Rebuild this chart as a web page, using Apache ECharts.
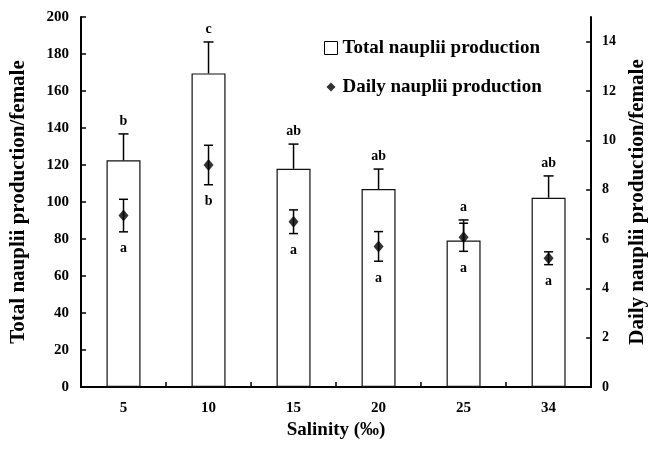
<!DOCTYPE html>
<html>
<head>
<meta charset="utf-8">
<script src="https://cdn.jsdelivr.net/npm/echarts@6/dist/echarts.min.js"></script>
<style>
html,body{margin:0;padding:0;background:#fff;}
#main{width:656px;height:450px;}
</style>
</head>
<body>
<div id="main"></div>
<script>
const categories = ['5', '10', '15', '20', '25', '34'];
const totalValues = [122.5, 169.5, 118, 107, 79.2, 102.3];
const totalErrors = [14.3, 17, 13.3, 10.8, 11.1, 11.8];
const dailyValues = [6.95, 9.0, 6.7, 5.7, 6.07, 5.22];
const dailyErrors = [0.66, 0.8, 0.48, 0.6, 0.57, 0.26];
const totalLetters = ['b', 'c', 'ab', 'ab', 'a', 'ab'];
const dailyLetters = ['a', 'b', 'a', 'a', 'a', 'a'];
const leftTicks = [0, 200, 20];
const rightTicks = [0, 15, 2];

const FONT = "'Liberation Serif', 'Times New Roman', serif";

const chart = echarts.init(document.getElementById('main'));

const totalErrData = totalValues.map((v, i) => [i, v, totalErrors[i], totalLetters[i]]);
const dailyErrData = dailyValues.map((v, i) => [i, v, dailyErrors[i], dailyLetters[i]]);

function renderTotalErr(params, api) {
  const i = api.value(0), v = api.value(1), e = api.value(2);
  const base = api.coord([i, v]);
  const top = api.coord([i, v + e]);
  const cap = 5;
  const letter = totalLetters[params.dataIndex];
  return {
    type: 'group',
    children: [
      {type: 'line', shape: {x1: top[0], y1: base[1], x2: top[0], y2: top[1]}, style: {stroke: '#000', lineWidth: 1.5}},
      {type: 'line', shape: {x1: top[0] - cap, y1: top[1], x2: top[0] + cap, y2: top[1]}, style: {stroke: '#000', lineWidth: 1.5}},
      {type: 'text', x: top[0], y: top[1] - 13, style: {text: letter, fill: '#000', font: 'bold 14px ' + FONT, align: 'center', verticalAlign: 'middle'}}
    ]
  };
}

function renderDailyErr(params, api) {
  const i = api.value(0), v = api.value(1), e = api.value(2);
  const hi = api.coord([i, v + e]);
  const lo = api.coord([i, v - e]);
  const cap = 4.5;
  const letter = dailyLetters[params.dataIndex];
  return {
    type: 'group',
    children: [
      {type: 'line', shape: {x1: hi[0], y1: hi[1], x2: lo[0], y2: lo[1]}, style: {stroke: '#000', lineWidth: 1.5}},
      {type: 'line', shape: {x1: hi[0] - cap, y1: hi[1], x2: hi[0] + cap, y2: hi[1]}, style: {stroke: '#000', lineWidth: 1.5}},
      {type: 'line', shape: {x1: lo[0] - cap, y1: lo[1], x2: lo[0] + cap, y2: lo[1]}, style: {stroke: '#000', lineWidth: 1.5}},
      {type: 'text', x: lo[0], y: lo[1] + 17, style: {text: letter, fill: '#000', font: 'bold 14px ' + FONT, align: 'center', verticalAlign: 'middle'}}
    ]
  };
}

const option = {
  animation: false,
  backgroundColor: '#fff',
  textStyle: {fontFamily: FONT},
  grid: {left: 81, right: 61, top: 17, bottom: 63, containLabel: false},
  legend: {
    orient: 'vertical',
    left: 319,
    top: 33,
    itemGap: 19,
    itemWidth: 13,
    itemHeight: 13,
    textStyle: {fontFamily: FONT, fontWeight: 'bold', fontSize: 19, color: '#000', lineHeight: 20},
    data: [
      {name: 'Total nauplii production', icon: 'rect', itemStyle: {color: '#fff', borderColor: '#000', borderWidth: 1}},
      {name: 'Daily nauplii production', icon: 'path://M0,0L0.01,0M20,20L20.01,20M10,3L17,10L10,17L3,10Z', itemStyle: {color: '#000'}}
    ]
  },
  xAxis: {
    type: 'category',
    data: categories,
    name: 'Salinity (‰)',
    nameLocation: 'middle',
    nameGap: 30,
    nameTextStyle: {fontFamily: FONT, fontWeight: 'bold', fontSize: 19, color: '#000'},
    axisLine: {lineStyle: {color: '#000', width: 2}},
    axisTick: {show: true, inside: true, length: 5, lineStyle: {color: '#000', width: 1.5}},
    axisLabel: {fontFamily: FONT, fontWeight: 'bold', fontSize: 15, color: '#000', margin: 14}
  },
  yAxis: [
    {
      type: 'value',
      min: leftTicks[0], max: leftTicks[1], interval: leftTicks[2],
      name: 'Total nauplii production/female',
      nameLocation: 'middle',
      nameGap: 52,
      nameTextStyle: {fontFamily: FONT, fontWeight: 'bold', fontSize: 21, color: '#000'},
      axisLine: {show: true, lineStyle: {color: '#000', width: 2}},
      axisTick: {show: true, inside: true, length: 5, lineStyle: {color: '#000', width: 1.5}},
      axisLabel: {fontFamily: FONT, fontWeight: 'bold', fontSize: 15, color: '#000', margin: 12},
      splitLine: {show: false}
    },
    {
      type: 'value',
      position: 'right',
      min: rightTicks[0], max: rightTicks[1], interval: rightTicks[2],
      name: 'Daily nauplii production/female',
      nameLocation: 'middle',
      nameGap: 34,
      nameTextStyle: {fontFamily: FONT, fontWeight: 'bold', fontSize: 21, color: '#000'},
      axisLine: {show: true, lineStyle: {color: '#000', width: 2}},
      axisTick: {show: true, inside: true, length: 5, lineStyle: {color: '#000', width: 1.5}},
      axisLabel: {fontFamily: FONT, fontWeight: 'bold', fontSize: 14, color: '#000', margin: 11, showMaxLabel: false},
      splitLine: {show: false}
    }
  ],
  series: [
    {
      name: 'Total nauplii production',
      type: 'bar',
      yAxisIndex: 0,
      data: totalValues,
      barWidth: 34,
      itemStyle: {color: '#fff', borderColor: '#111', borderWidth: 1.2},
      z: 2
    },
    {
      name: 'Total error',
      type: 'custom',
      yAxisIndex: 0,
      data: totalErrData,
      encode: {x: 0, y: 1},
      renderItem: renderTotalErr,
      z: 3,
      silent: true
    },
    {
      name: 'Daily error',
      type: 'custom',
      yAxisIndex: 1,
      data: dailyErrData,
      encode: {x: 0, y: 1},
      renderItem: renderDailyErr,
      z: 4,
      silent: true
    },
    {
      name: 'Daily nauplii production',
      type: 'scatter',
      yAxisIndex: 1,
      data: dailyValues,
      symbol: 'diamond',
      symbolSize: [10, 12],
      itemStyle: {color: '#000'},
      z: 5
    }
  ]
};
chart.setOption(option);
</script>
</body>
</html>
